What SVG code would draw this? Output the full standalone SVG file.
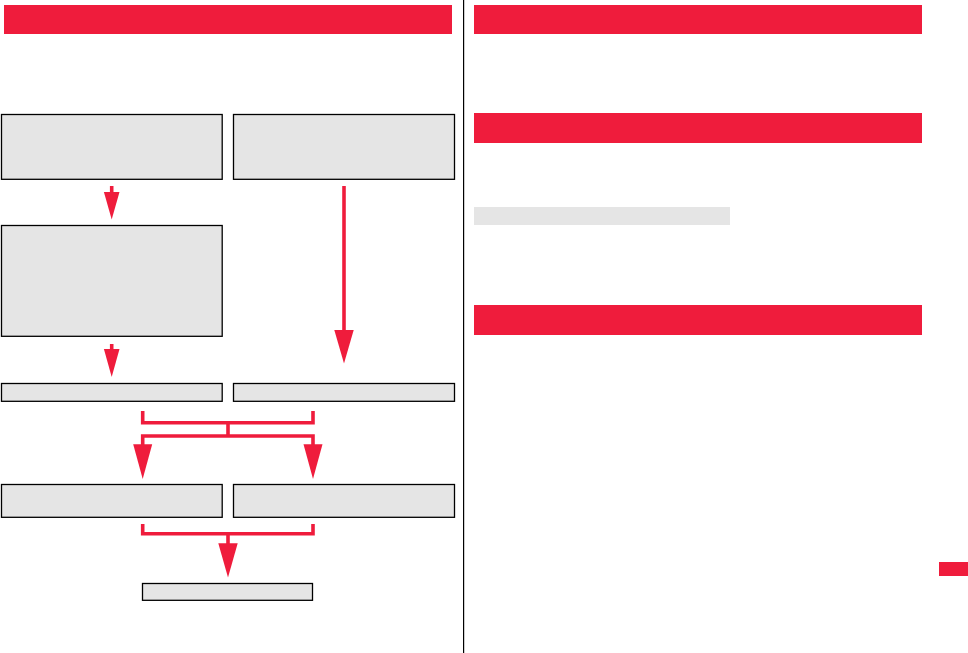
<svg xmlns="http://www.w3.org/2000/svg" width="968" height="653" viewBox="0 0 968 653">
<style>
.hdr{fill:#EF1C3C}
.box{fill:#E5E5E5;stroke:#000;stroke-width:1.3}
.ln{fill:none;stroke:#EF1C3C;stroke-width:3.6}
.head{fill:#EF1C3C}
.div{stroke:#000;stroke-width:1.2}
</style>
<rect width="968" height="653" fill="#fff"/>
<line class="div" x1="463.6" y1="0" x2="463.6" y2="653"/>
<g id="headers">
<rect class="hdr" x="4" y="5" width="448" height="29"/>
<rect class="hdr" x="474" y="5" width="448" height="29"/>
<rect class="hdr" x="474" y="113" width="448" height="30"/>
<rect class="hdr" x="474" y="305" width="448" height="30"/>
<rect x="474" y="207" width="256" height="18" fill="#E5E5E5"/>
<rect class="hdr" x="939" y="562" width="29" height="14"/>
</g>
<g id="n1"><rect class="box" x="1.5" y="114.5" width="220.7" height="64.8"/></g>
<g id="n2"><rect class="box" x="233.5" y="114.5" width="221" height="64.8"/></g>
<g id="n3"><rect class="box" x="1.5" y="225.5" width="220.7" height="110.8"/></g>
<g id="n4"><rect class="box" x="1.5" y="383.5" width="220.7" height="17.8"/></g>
<g id="n5"><rect class="box" x="233.5" y="383.5" width="221" height="17.8"/></g>
<g id="n6"><rect class="box" x="1.5" y="484.5" width="220.7" height="32.8"/></g>
<g id="n7"><rect class="box" x="233.5" y="484.5" width="221" height="32.8"/></g>
<g id="n8"><rect class="box" x="142.5" y="583.5" width="170" height="16.8"/></g>
<g id="connectors">
<line class="ln" x1="111.7" y1="186" x2="111.7" y2="193"/>
<polygon class="head" points="103.9,192 119.5,192 111.7,219.5"/>
<line class="ln" x1="111.7" y1="344" x2="111.7" y2="350"/>
<polygon class="head" points="103.9,349 119.5,349 111.7,377"/>
<line class="ln" x1="344" y1="186" x2="344" y2="331"/>
<polygon class="head" points="334.3,330 353.7,330 344,363.5"/>
<polyline class="ln" points="142.7,411 142.7,422.7 313,422.7 313,411"/>
<line class="ln" x1="228" y1="422.7" x2="228" y2="436"/>
<polyline class="ln" points="142.7,446 142.7,436 313,436 313,446"/>
<polygon class="head" points="133.2,444.3 152.2,444.3 142.7,479"/>
<polygon class="head" points="303.5,444.3 322.5,444.3 313,479"/>
<polyline class="ln" points="142.7,524 142.7,533.7 313,533.7 313,524"/>
<line class="ln" x1="228" y1="533.7" x2="228" y2="545"/>
<polygon class="head" points="218.3,543.3 237.7,543.3 228,577.5"/>
</g>
</svg>
